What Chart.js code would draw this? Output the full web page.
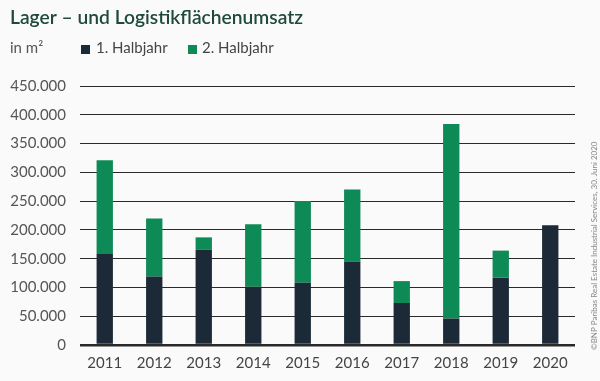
<!DOCTYPE html>
<html><head><meta charset="utf-8">
<script src="https://cdn.jsdelivr.net/npm/chart.js@4/dist/chart.umd.min.js"></script>
<style>html,body{margin:0;padding:0;background:#fafafa;}#wrap{width:600px;height:381px;position:relative;}</style>
</head><body><div id="wrap"><canvas id="c" width="600" height="381"></canvas></div>
<script>
const years = ['2011','2012','2013','2014','2015','2016','2017','2018','2019','2020'];
const half1 = [158000,119000,166000,101000,108000,145000,73000,46000,117000,208000];
const half2 = [163000,101000,21000,109000,142000,125000,38000,338000,47000,0];
const yTicks = [0,50000,100000,150000,200000,250000,300000,350000,400000,450000];
const titleText = 'Lager – und Logistikflächenumsatz';
const unitText = 'in m²';
const creditText = '©BNP Paribas Real Estate Industrial Services, 30. Juni 2020';

const fmt = v => v === 0 ? '0' : v.toLocaleString('de-DE');

const deco = {
  id: 'deco',
  afterDraw(chart) {
    const ctx = chart.ctx;
    ctx.save();
    ctx.textBaseline = 'alphabetic';
    ctx.textAlign = 'left';
    ctx.fillStyle = '#1f4a3b';
    ctx.font = '600 20px Lato';
    ctx.fillText(titleText, 10, 24, 293);
    ctx.fillStyle = '#555';
    ctx.font = '15px Lato';
    ctx.fillText(unitText, 10, 53);
    const items = [[81, 96, 0], [188, 202, 1]];
    items.forEach(([bx, tx, i]) => {
      const ds = chart.data.datasets[i];
      ctx.fillStyle = ds.backgroundColor;
      ctx.fillRect(bx, 45, 9, 9);
      ctx.fillStyle = '#444';
      ctx.font = '15px Lato';
      ctx.fillText(ds.label, tx, 53, 76);
    });
    ctx.translate(597, 350);
    ctx.rotate(-Math.PI / 2);
    ctx.fillStyle = '#888';
    ctx.font = '8px Lato';
    ctx.fillText(creditText, 0, 0, 225);
    ctx.restore();
  }
};

new Chart(document.getElementById('c'), {
  type: 'bar',
  data: {
    labels: years,
    datasets: [
      { label: '1. Halbjahr', data: half1, backgroundColor: '#1b2a36', barPercentage: 0.33, categoryPercentage: 1 },
      { label: '2. Halbjahr', data: half2, backgroundColor: '#0e8a56', barPercentage: 0.33, categoryPercentage: 1 }
    ]
  },
  options: {
    responsive: false,
    animation: false,
    layout: { padding: { top: 86, right: 25, bottom: 0, left: 0 } },
    plugins: { legend: { display: false }, tooltip: { enabled: false } },
    scales: {
      x: {
        stacked: true,
        grid: { display: false, drawTicks: false },
        border: { display: false },
        ticks: { color: '#444', font: { family: 'Lato', size: 15 }, padding: 9 },
        afterFit: s => { s.height = 36; }
      },
      y: {
        stacked: true,
        min: 0, max: 450000,
        afterBuildTicks: s => { s.ticks = yTicks.map(v => ({ value: v })); },
        grid: {
          drawTicks: false,
          color: '#2a2a2a',
          lineWidth: c => c.tick && c.tick.value === 0 ? 2.5 : 1
        },
        border: { display: false },
        ticks: { color: '#555', font: { family: 'Lato', size: 15 }, padding: 14, callback: v => fmt(v) },
        afterFit: s => { s.width = 80; }
      }
    }
  },
  plugins: [deco]
});
</script></body></html>
